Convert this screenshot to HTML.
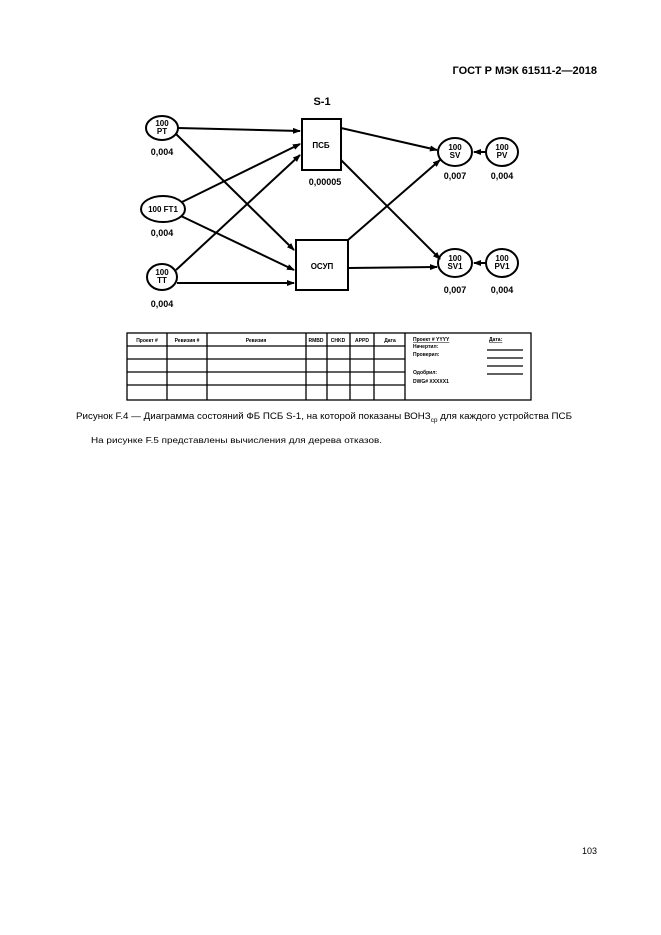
<!DOCTYPE html>
<html><head><meta charset="utf-8"><style>
body{margin:0;background:#fff;}
svg{display:block;font-family:"Liberation Sans",Arial,sans-serif;}
</style></head><body>
<svg width="661" height="935" viewBox="0 0 661 935" xmlns="http://www.w3.org/2000/svg">
<defs><marker id="a" markerWidth="8" markerHeight="6" refX="7" refY="3" orient="auto" markerUnits="userSpaceOnUse"><path d="M0,0 L8,3 L0,6 z" fill="#000"/></marker></defs>
<text x="597" y="74" font-size="11" font-weight="bold" text-anchor="end">ГОСТ Р МЭК 61511-2—2018</text>
<g stroke="#000" stroke-width="2" fill="#fff">
<ellipse cx="162" cy="128" rx="16" ry="12"/>
<ellipse cx="163" cy="209" rx="22" ry="13"/>
<ellipse cx="162" cy="277" rx="15" ry="13"/>
<rect x="302" y="119" width="39" height="51"/>
<rect x="296" y="240" width="52" height="50"/>
<ellipse cx="455" cy="152" rx="17" ry="14"/>
<ellipse cx="502" cy="152" rx="16" ry="14"/>
<ellipse cx="455" cy="263" rx="17" ry="14"/>
<ellipse cx="502" cy="263" rx="16" ry="14"/>
</g>
<g stroke="#000" stroke-width="2" marker-end="url(#a)">
<line x1="178" y1="128" x2="300" y2="131"/>
<line x1="176" y1="134" x2="294" y2="250"/>
<line x1="182" y1="202" x2="300" y2="144"/>
<line x1="181" y1="216" x2="294" y2="270"/>
<line x1="176" y1="270" x2="300" y2="155"/>
<line x1="177" y1="283" x2="294" y2="283"/>
<line x1="341" y1="128" x2="437" y2="150"/>
<line x1="341" y1="160" x2="440" y2="259"/>
<line x1="348" y1="240" x2="440" y2="160"/>
<line x1="348" y1="268" x2="437" y2="267"/>
<line x1="486" y1="152" x2="474" y2="152"/>
<line x1="486" y1="263" x2="474" y2="263"/>
</g>
<g font-size="8" font-weight="bold" text-anchor="middle">
<text x="162" y="126">100</text><text x="162" y="134">PT</text>
<text x="163" y="212">100 FT1</text>
<text x="162" y="275">100</text><text x="162" y="283">TT</text>
<text x="321" y="148">ПСБ</text>
<text x="322" y="269">ОСУП</text>
<text x="455" y="150">100</text><text x="455" y="158">SV</text>
<text x="502" y="150">100</text><text x="502" y="158">PV</text>
<text x="455" y="261">100</text><text x="455" y="269">SV1</text>
<text x="502" y="261">100</text><text x="502" y="269">PV1</text>
<text x="162" y="155" font-size="9">0,004</text>
<text x="162" y="236" font-size="9">0,004</text>
<text x="162" y="307" font-size="9">0,004</text>
<text x="325" y="185" font-size="9">0,00005</text>
<text x="455" y="179" font-size="9">0,007</text>
<text x="502" y="179" font-size="9">0,004</text>
<text x="455" y="293" font-size="9">0,007</text>
<text x="502" y="293" font-size="9">0,004</text>
<text x="322" y="105" font-size="11">S-1</text>
</g>
<g stroke="#000" stroke-width="1.3" fill="none">
<rect x="127" y="333" width="404" height="67"/>
<line x1="127" y1="346" x2="405" y2="346"/>
<line x1="127" y1="359" x2="405" y2="359"/>
<line x1="127" y1="372" x2="405" y2="372"/>
<line x1="127" y1="385" x2="405" y2="385"/>
<line x1="167" y1="333" x2="167" y2="400"/>
<line x1="207" y1="333" x2="207" y2="400"/>
<line x1="306" y1="333" x2="306" y2="400"/>
<line x1="327" y1="333" x2="327" y2="400"/>
<line x1="350" y1="333" x2="350" y2="400"/>
<line x1="374" y1="333" x2="374" y2="400"/>
<line x1="405" y1="333" x2="405" y2="400"/>
<line x1="487" y1="350" x2="523" y2="350"/>
<line x1="487" y1="358" x2="523" y2="358"/>
<line x1="487" y1="366" x2="523" y2="366"/>
<line x1="487" y1="374" x2="523" y2="374"/>
</g>
<g font-size="5" font-weight="bold" text-anchor="middle">
<text x="147" y="342">Проект #</text><text x="187" y="342">Ревизия #</text>
<text x="256" y="342">Ревизия</text><text x="316" y="342">RMBD</text>
<text x="338" y="342">CHKD</text><text x="362" y="342">APPD</text><text x="390" y="342">Дата</text>
</g>
<g font-size="5" font-weight="bold">
<text x="413" y="341" text-decoration="underline">Проект # YYYY</text>
<text x="489" y="341" text-decoration="underline">Дата:</text>
<text x="413" y="348">Начертил:</text><text x="413" y="356">Проверил:</text>
<text x="413" y="374">Одобрил:</text><text x="413" y="383">DWG# XXXXX1</text>
</g>
<text x="76" y="419" font-size="9" textLength="496" lengthAdjust="spacingAndGlyphs">Рисунок F.4 — Диаграмма состояний ФБ ПСБ S-1, на которой показаны ВОНЗ<tspan font-size="6" dy="3">ср</tspan><tspan dy="-3"> для каждого устройства ПСБ</tspan></text>
<text x="91" y="443" font-size="8.6" textLength="291" lengthAdjust="spacingAndGlyphs">На рисунке F.5 представлены вычисления для дерева отказов.</text>
<text x="597" y="854" font-size="9" text-anchor="end">103</text>
</svg>
</body></html>
